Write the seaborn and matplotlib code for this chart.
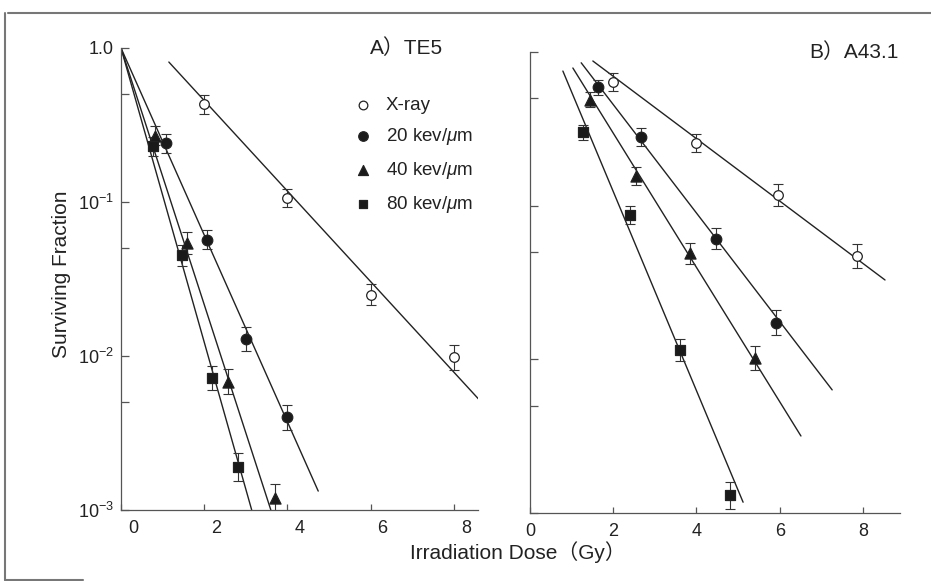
import numpy as np
import pandas as pd
import matplotlib
matplotlib.use('Agg')
import matplotlib.pyplot as plt
import matplotlib.transforms as mtransforms
from matplotlib.lines import Line2D
from matplotlib.ticker import FixedLocator, NullFormatter
import seaborn as sns

# survival data
beams = ['X-ray', '20 kev/$\\mu$m', '40 kev/$\\mu$m', '80 kev/$\\mu$m']

# A) TE5
dose_a = [[2.0, 4.0, 6.0, 8.0],
          [1.08, 2.07, 3.0, 4.0],
          [0.82, 1.59, 2.57, 3.7],
          [0.77, 1.46, 2.19, 2.81]]
sf_a = [[0.43, 0.106, 0.025, 0.0098],
        [0.24, 0.057, 0.0129, 0.0040],
        [0.27, 0.054, 0.0068, 0.0012],
        [0.23, 0.045, 0.0072, 0.0019]]
err_a = [[0.06, 0.06, 0.07, 0.08],
         [0.06, 0.06, 0.08, 0.08],
         [0.06, 0.07, 0.08, 0.09],
         [0.06, 0.07, 0.08, 0.09]]
# fitted lines: log10 intercept, slope (decades/Gy), dose range
fit_b_a = [0.247, 0.0, 0.0, 0.0]
fit_m_a = [-0.294, -0.607, -0.833, -0.955]
fit_lo_a = [1.15, 0.0, 0.0, 0.0]
fit_hi_a = [8.6, 4.74, 3.6, 3.14]

# B) A43.1
dose_b = [[2.0, 4.0, 5.95, 7.85],
          [1.64, 2.67, 4.47, 5.91],
          [1.43, 2.55, 3.85, 5.41],
          [1.28, 2.4, 3.6, 4.81]]
sf_b = [[0.64, 0.255, 0.117, 0.047],
        [0.59, 0.28, 0.061, 0.0173],
        [0.49, 0.156, 0.049, 0.0102],
        [0.30, 0.087, 0.0115, 0.0013]]
err_b = [[0.06, 0.06, 0.07, 0.08],
         [0.05, 0.06, 0.07, 0.08],
         [0.05, 0.06, 0.07, 0.08],
         [0.05, 0.06, 0.07, 0.09]]
fit_b_b = [0.248, 0.364, 0.346, 0.388]
fit_m_b = [-0.203, -0.353, -0.437, -0.648]
fit_lo_b = [1.51, 1.23, 1.03, 0.79]
fit_hi_b = [8.53, 7.26, 6.51, 5.12]

markers = ['o', 'o', '^', 's']
faces = ['white', '#1a1a1a', '#1a1a1a', '#1a1a1a']
sizes = [48, 58, 64, 50]
ink = '#222222'

sns.set_theme(style='ticks')
plt.rcParams['font.family'] = ['Liberation Sans', 'Noto Sans CJK JP']
plt.rcParams['mathtext.fontset'] = 'custom'
plt.rcParams['mathtext.rm'] = 'Liberation Sans'
plt.rcParams['mathtext.it'] = 'Liberation Sans:italic'
plt.rcParams['text.color'] = ink

fig = plt.figure(figsize=(9.31, 5.81), dpi=100)
ax_a = fig.add_axes([121/931, 1-510/581, 357/931, 462/581])
ax_b = fig.add_axes([530/931, 1-513/581, 370/931, 461/581])


def draw_panel(ax, dose, sf, err, fb, fm, flo, fhi, xmax, legend=False):
    ax.set_yscale('log')
    for i in range(4):
        x = np.array(dose[i])
        y = np.array(sf[i])
        e = np.array(err[i])
        xx = np.linspace(flo[i], fhi[i], 50)
        sns.lineplot(x=xx, y=10 ** (fb[i] + fm[i] * xx), color=ink, lw=1.0, ax=ax)
        ax.errorbar(x, y, yerr=[y - y * 10 ** -e, y * 10 ** e - y], fmt='none',
                    ecolor='#333333', elinewidth=0.8, capsize=3.5, capthick=0.8, zorder=3)
        sns.scatterplot(x=x, y=y, marker=markers[i], s=sizes[i], color=faces[i],
                        edgecolor=ink, linewidth=0.9, zorder=4, ax=ax,
                        label=beams[i] if legend else None)
    ax.set_xlim(0, xmax)
    ax.set_ylim(1e-3, 1.0)
    ax.set_xticks([2, 4, 6, 8])
    ax.yaxis.set_major_locator(FixedLocator([1e-3, 1e-2, 1e-1, 1.0]))
    ax.yaxis.set_minor_locator(FixedLocator([5e-3, 5e-2, 5e-1]))
    ax.yaxis.set_minor_formatter(NullFormatter())
    ax.tick_params(axis='y', which='both', direction='in', length=6, width=0.9,
                   colors='#555555', labelcolor=ink, labelsize=13, pad=5)
    ax.tick_params(axis='x', direction='in', length=4.5, width=0.9,
                   colors='#555555', labelcolor=ink, labelsize=13, pad=7)
    for s in ['top', 'right']:
        ax.spines[s].set_visible(False)
    for s in ['left', 'bottom']:
        ax.spines[s].set_color('#555555')
        ax.spines[s].set_linewidth(0.9)
    ax.set_xlabel('')
    ax.set_ylabel('')


draw_panel(ax_a, dose_a, sf_a, err_a, fit_b_a, fit_m_a, fit_lo_a, fit_hi_a, 8.58, legend=True)
draw_panel(ax_b, dose_b, sf_b, err_b, fit_b_b, fit_m_b, fit_lo_b, fit_hi_b, 8.89)

ax_a.set_xticks([0, 2, 4, 6, 8])
ax_a.set_yticklabels(['$10^{-3}$', '$10^{-2}$', '$10^{-1}$', '1.0'])
ax_b.set_xticks([0, 2, 4, 6, 8])
ax_b.set_yticklabels([])

# left panel tick labels sit a little right of the ticks in the original
shift = mtransforms.ScaledTranslation(12/100, 0, fig.dpi_scale_trans)
for lab in ax_a.get_xticklabels():
    lab.set_transform(lab.get_transform() + shift)

ax_a.legend(loc='upper left', bbox_to_anchor=(0.658, 0.895), frameon=False,
            fontsize=13.5, handlelength=0.8, handletextpad=0.8, labelspacing=0.68,
            borderpad=0, borderaxespad=0, markerscale=0.9)

fig.text(370/931, 1-48/581, 'A）TE5', fontsize=15, ha='left', va='center')
fig.text(809/931, 1-52/581, 'B）A43.1', fontsize=15, ha='left', va='center')
fig.text(62/931, 1-274/581, 'Surviving Fraction', fontsize=15, rotation=90,
         ha='center', va='center')
fig.text(518/931, 1-552/581, 'Irradiation Dose（Gy）', fontsize=15,
         ha='center', va='center')

# scan frame
frame = '#777777'
fig.add_artist(Line2D([8/931, 1.0], [1-13/581, 1-13/581], color=frame, lw=1.5))
fig.add_artist(Line2D([5/931, 5/931], [1-13/581, 1-580/581], color=frame, lw=1.5))
fig.add_artist(Line2D([5/931, 83/931], [1-580/581, 1-580/581], color=frame, lw=1.5))

fig.savefig('out.png', dpi=100)
